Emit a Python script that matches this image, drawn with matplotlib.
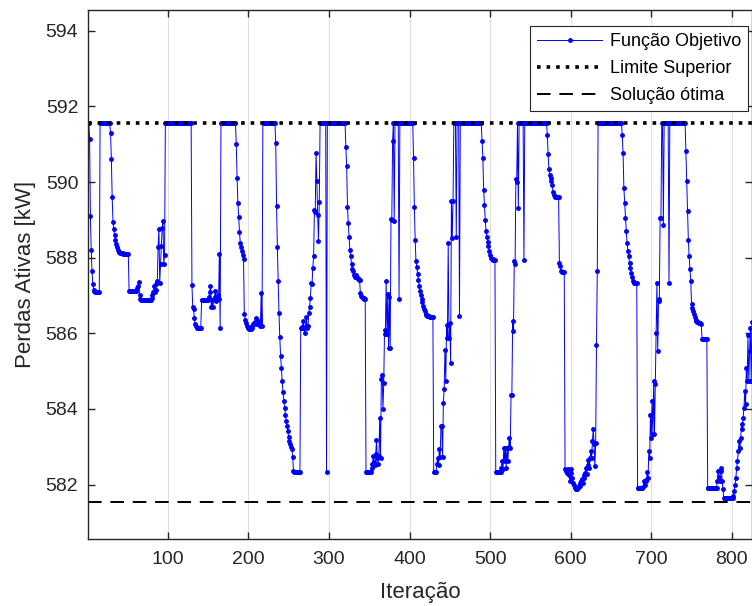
import numpy as np
import matplotlib
matplotlib.use("Agg")
import matplotlib.pyplot as plt

plt.rcParams['font.family'] = ['Liberation Sans', 'DejaVu Sans']

# limites (kW)
LS = 591.55   # limite superior
SO = 581.55   # solucao otima

# perdas ativas por iteracao
perdas = (
    [LS]*2
    + [591.15, 589.1, 588.2, 587.65, 587.3, 587.15, 587.12] + [587.1]*6
    + [LS]*13
    + [591.3, 590.6, 589.6, 588.95, 588.75, 588.6, 588.48, 588.36, 588.27, 588.2, 588.16, 588.14] + [588.12]*4 + [588.09]*7
    + [587.12]*9 + [587.12, 587.2, 587.25, 587.35, 587.0, 586.9] + [586.88]*13
    + [586.94, 587.02, 587.1, 587.24, 587.08, 587.15, 587.3, 587.38]
    + [588.28, 588.76, 587.33, 587.82, 588.3, 588.78, 588.96, 587.82, 588.08]
    + [LS]*33
    + [587.27, 586.7, 586.63, 586.4, 586.25, 586.19] + [586.15]*6
    + [586.87] + [586.88]*8
    + [586.95, 587.08, 587.24, 586.69, 586.88, 586.7, 586.9, 586.95, 587.11, 586.85, 586.95, 587.0, 586.9, 588.09, 586.15]
    + [LS]*19
    + [591.0, 590.12, 589.45, 589.07, 588.68, 588.39, 588.28, 588.17, 588.06, 587.96]
    + [586.51, 586.36, 586.27, 586.2, 586.16, 586.14, 586.12, 586.12, 586.12, 586.14, 586.2, 586.25,
       586.28, 586.3, 586.25, 586.41, 586.35, 586.3, 586.24, 586.2, 586.3, 587.07, 586.19]
    + [LS]*16
    + [591.02, 589.36, 588.27, 587.39, 586.54, 585.9, 585.4, 585.09, 584.73, 584.45, 584.22, 584.03,
       583.85, 583.68, 583.55, 583.41, 583.25, 583.15, 583.06, 582.99, 582.95, 582.73, 582.37]
    + [582.34]*8
    + [586.14, 586.14, 586.16, 586.32, 586.14, 586.0, 586.2, 586.43, 586.14, 586.2, 586.54, 586.7,
       586.94, 587.33, 587.3, 587.73, 588.05, 589.27, 589.2, 590.77, 590.02, 589.14, 588.45, 589.46]
    + [LS]*8 + [582.34] + [LS]*23
    + [590.92, 590.42, 589.34, 588.91, 588.54, 588.21, 588.04, 587.82, 587.7, 587.64, 587.55, 587.5,
       587.55, 587.5, 587.47, 587.45, 587.42, 587.42, 587.07, 586.98, 586.95, 586.94, 586.93, 586.92, 586.92]
    + [582.34]*7
    + [582.45, 582.55, 582.75, 582.6, 582.53, 582.8, 583.17, 582.7, 582.55, 582.75, 583.77, 582.7,
       584.78, 584.91, 583.99, 584.69, 586.1, 585.97, 587.38, 585.97, 587.04, 585.62, 586.95, 585.62,
       589.03, 589.0, 591.08, LS, 588.96] + [LS]*5 + [586.91]
    + [LS]*17
    + [590.63, 589.35, 588.47, 587.92, 587.75, 587.57, 587.42, 587.26, 587.13, 587.02, 586.92, 586.82,
       586.73, 586.65, 586.58, 586.51, 586.49, 586.47, 586.46, 586.45] + [586.44]*5
    + [582.34]*4
    + [582.55, 582.71, 582.53, 582.93, 582.72, 583.55, 583.55, 582.72, 584.16, 584.54, 585.57, 584.75,
       586.23, 585.88, 588.39, 585.88, 586.28, 585.22, 589.51, 588.52, 589.5] + [LS]*3 + [588.54] + [LS]*3 + [586.45]
    + [LS]*27
    + [591.09, 590.63, 589.79, 589.38, 588.99, 588.7, 588.54, 588.42, 588.3, 588.17, 588.06, 587.99,
       587.97, 587.96, 587.95, 587.94, 587.94]
    + [582.34]*7
    + [582.45, 582.62, 582.4, 582.97, 582.62, 582.97, 582.45, 582.97, 582.62, 583.0, 583.24, 582.97,
       584.38, 584.38, 586.32, 586.06, 587.9, 587.82, 590.09, 590.0, LS, 589.31] + [LS]*6 + [587.95]
    + [LS]*28
    + [591.25, 590.74, 590.34, 590.18, 590.1, 590.02, 589.93, 589.75, 589.67, 589.62] + [589.6]*5
    + [587.86, 587.77, 587.64] + [587.62]*4
    + [582.4, 582.35, 582.3, 582.35, 582.4, 582.25, 582.09, 582.4, 582.3, 582.18, 582.05, 582.0,
       581.92, 581.88, 581.87, 581.87, 581.9, 581.95, 581.96, 582.04, 582.09, 582.14, 582.04, 582.18,
       582.25, 582.31, 582.45, 582.27, 582.53, 582.66, 582.45, 582.71, 582.88, 582.71, 583.15, 583.46,
       583.06, 582.49, 583.1, 585.7, 587.64]
    + [LS]*30
    + [591.25, 590.76, 589.84, 589.45, 589.05, 588.7, 588.39, 588.17, 588.04, 587.86, 587.73, 587.6,
       587.48, 587.38, 587.35] + [587.33]*4
    + [581.9]*7
    + [581.93, 582.09, 582.0, 582.13, 582.09, 582.34, 582.18, 582.88, 582.7, 583.85, 583.23, 584.2,
       583.33, 584.75, 583.33, 584.65, 586.01, 587.33, 585.53, 586.85, 586.9, 589.05, 589.05,
       LS, LS, 588.86] + [LS]*6 + [587.33]
    + [LS]*20
    + [590.83, 590.02, 589.23, 588.48, 588.04, 587.69, 587.38, 586.78, 586.67, 586.58, 586.5, 586.43,
       586.36, 586.33, 586.3, 586.29, 586.28, 586.27, 586.26, 586.25] + [585.85]*7
    + [581.9]*11
    + [581.92, 582.09, 582.36, 582.2, 582.09, 582.36, 582.45, 582.09, 581.87, 581.65] + [581.65]*11
    + [581.7, 581.83, 582.0, 582.18, 582.45, 582.62, 582.88, 583.15, 582.97, 583.24, 583.59, 583.46,
       583.77, 584.03, 584.47, 584.12, 585.09, 584.73, 585.96, 584.73, 585.53, 586.14, 584.73, 586.3]
)

iteracao = np.arange(1, len(perdas) + 1)

fig = plt.figure(figsize=(7.52, 6.06), dpi=100)
ax = fig.add_axes([88/752, 1 - 539/606, 664/752, 529/606])

ax.plot(iteracao, perdas, color='#0000ff', lw=0.7, marker='.', ms=5, label='Função Objetivo')
ax.axhline(LS, color='black', ls=':', lw=2.6, label='Limite Superior')
ax.axhline(SO, color='black', ls=(0, (7, 4.5)), lw=1.4, label='Solução ótima')

ax.set_xlim(1, 825)
ax.set_ylim(580.56, 594.55)
ax.set_xticks([100, 200, 300, 400, 500, 600, 700, 800])
ax.set_yticks([582, 584, 586, 588, 590, 592, 594])
ax.grid(axis='x', color='#dfdfdf', lw=0.8)
ax.set_axisbelow(True)

ax.tick_params(direction='in', length=5, width=1, top=True, right=True,
               labelsize=14, colors='#262626')
ax.tick_params(axis='x', pad=9)
ax.tick_params(axis='y', pad=7)
for s in ax.spines.values():
    s.set_color('#262626')
    s.set_linewidth(1.0)

ax.set_xlabel('Iteração', fontsize=16, color='#262626', labelpad=10)
ax.set_ylabel('Perdas Ativas [kW]', fontsize=16, color='#262626', labelpad=7)

leg = ax.legend(loc='upper right', bbox_to_anchor=(0.994, 0.97), borderaxespad=0,
                fontsize=13, fancybox=False, edgecolor='#262626', framealpha=1,
                handlelength=3.6, borderpad=0.4, labelspacing=0.55, handletextpad=0.4)
leg.get_frame().set_linewidth(0.8)

fig.savefig('out.png', dpi=100)
